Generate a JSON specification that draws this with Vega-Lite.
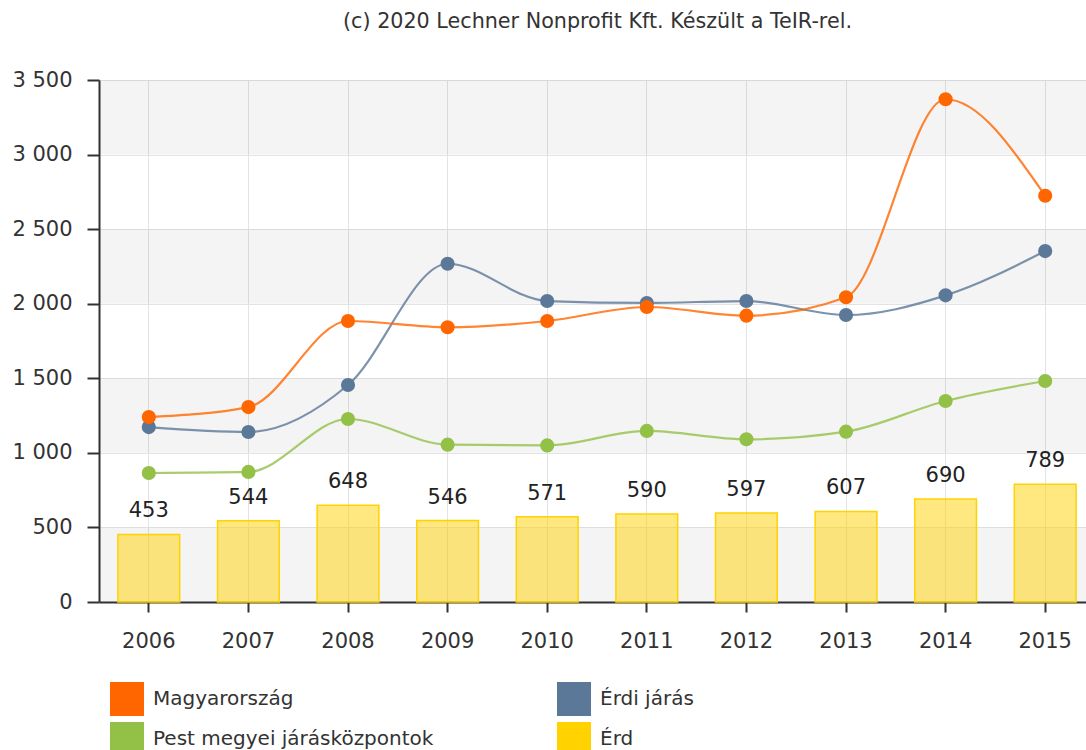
{
  "$schema": "https://vega.github.io/schema/vega-lite/v6.json",
  "width": 987,
  "height": 522,
  "autosize": "none",
  "padding": {"left": 99, "top": 80, "right": 0, "bottom": 148},
  "background": "white",
  "title": {
    "text": "(c) 2020 Lechner Nonprofit Kft. Készült a TeIR-rel.",
    "fontSize": 20.7,
    "fontWeight": "normal",
    "color": "#333333",
    "font": "DejaVu Sans",
    "offset": 20,
    "baseline": "alphabetic",
    "dx": 5
  },
  "config": {"view": {"stroke": null}, "font": "DejaVu Sans"},
  "datasets": {
    "bands": [
      {"lo": 0, "hi": 500},
      {"lo": 1000, "hi": 1500},
      {"lo": 2000, "hi": 2500},
      {"lo": 3000, "hi": 3500}
    ],
    "erd": [
      {"year": "2006", "value": 453},
      {"year": "2007", "value": 544},
      {"year": "2008", "value": 648},
      {"year": "2009", "value": 546},
      {"year": "2010", "value": 571},
      {"year": "2011", "value": 590},
      {"year": "2012", "value": 597},
      {"year": "2013", "value": 607},
      {"year": "2014", "value": 690},
      {"year": "2015", "value": 789}
    ],
    "series": [
      {"series": "Pest megyei járásközpontok", "year": "2006", "value": 865},
      {"series": "Pest megyei járásközpontok", "year": "2007", "value": 872},
      {"series": "Pest megyei járásközpontok", "year": "2008", "value": 1227},
      {"series": "Pest megyei járásközpontok", "year": "2009", "value": 1055},
      {"series": "Pest megyei járásközpontok", "year": "2010", "value": 1050},
      {"series": "Pest megyei járásközpontok", "year": "2011", "value": 1147},
      {"series": "Pest megyei járásközpontok", "year": "2012", "value": 1091},
      {"series": "Pest megyei járásközpontok", "year": "2013", "value": 1142},
      {"series": "Pest megyei járásközpontok", "year": "2014", "value": 1348},
      {"series": "Pest megyei járásközpontok", "year": "2015", "value": 1482},
      {"series": "Érdi járás", "year": "2006", "value": 1173},
      {"series": "Érdi járás", "year": "2007", "value": 1140},
      {"series": "Érdi járás", "year": "2008", "value": 1455},
      {"series": "Érdi járás", "year": "2009", "value": 2268},
      {"series": "Érdi járás", "year": "2010", "value": 2018},
      {"series": "Érdi járás", "year": "2011", "value": 2005},
      {"series": "Érdi járás", "year": "2012", "value": 2018},
      {"series": "Érdi járás", "year": "2013", "value": 1924},
      {"series": "Érdi járás", "year": "2014", "value": 2056},
      {"series": "Érdi járás", "year": "2015", "value": 2353},
      {"series": "Magyarország", "year": "2006", "value": 1240},
      {"series": "Magyarország", "year": "2007", "value": 1307},
      {"series": "Magyarország", "year": "2008", "value": 1884},
      {"series": "Magyarország", "year": "2009", "value": 1842},
      {"series": "Magyarország", "year": "2010", "value": 1884},
      {"series": "Magyarország", "year": "2011", "value": 1978},
      {"series": "Magyarország", "year": "2012", "value": 1920},
      {"series": "Magyarország", "year": "2013", "value": 2043},
      {"series": "Magyarország", "year": "2014", "value": 3371},
      {"series": "Magyarország", "year": "2015", "value": 2724}
    ]
  },
  "layer": [
    {
      "data": {"name": "bands"},
      "mark": {"type": "rect", "color": "#000000", "opacity": 0.045},
      "encoding": {
        "y": {
          "field": "lo",
          "type": "quantitative",
          "scale": {"domain": [0, 3500], "nice": false},
          "axis": {
            "title": null,
            "values": [0, 500, 1000, 1500, 2000, 2500, 3000, 3500],
            "labelExpr": "replace(format(datum.value, ',d'), ',', ' ')",
            "labelFontSize": 21,
            "labelColor": "#333333",
            "labelFont": "DejaVu Sans",
            "labelPadding": 15,
            "tickSize": 12,
            "tickWidth": 2,
            "tickColor": "#333333",
            "domainColor": "#333333",
            "domainWidth": 2,
            "gridColor": "#e3e3e3",
            "gridWidth": 1
          }
        },
        "y2": {"field": "hi"}
      }
    },
    {
      "data": {"name": "erd"},
      "mark": {"type": "bar", "fill": "#FFD200", "fillOpacity": 0.5, "stroke": "#FFD200", "strokeWidth": 1.5},
      "encoding": {
        "x": {
          "field": "year",
          "type": "ordinal",
          "scale": {"range": [0, 996], "paddingInner": 0.38, "paddingOuter": 0.19},
          "axis": {
            "title": null,
            "labelAngle": 0,
            "labelFontSize": 21,
            "labelColor": "#333333",
            "labelFont": "DejaVu Sans",
            "labelPadding": 18,
            "tickSize": 10,
            "tickWidth": 2,
            "tickColor": "#333333",
            "domainColor": "#333333",
            "domainWidth": 2,
            "grid": true,
            "gridColor": "#e3e3e3",
            "gridWidth": 1
          }
        },
        "y": {"field": "value", "type": "quantitative"}
      }
    },
    {
      "data": {"name": "erd"},
      "mark": {"type": "text", "fontSize": 21, "color": "#222222", "baseline": "alphabetic", "dy": -17, "font": "DejaVu Sans"},
      "encoding": {
        "x": {"field": "year", "type": "ordinal"},
        "y": {"field": "value", "type": "quantitative"},
        "text": {"field": "value", "type": "quantitative"}
      }
    },
    {
      "data": {"name": "series"},
      "mark": {"type": "line", "interpolate": "monotone", "strokeWidth": 2.2, "opacity": 0.8},
      "encoding": {
        "x": {"field": "year", "type": "ordinal"},
        "y": {"field": "value", "type": "quantitative"},
        "color": {
          "field": "series",
          "type": "nominal",
          "scale": {
            "domain": ["Magyarország", "Érdi járás", "Pest megyei járásközpontok", "Érd"],
            "range": ["#FF6600", "#5C7899", "#93C047", "#FFD200"]
          },
          "legend": {
            "orient": "none",
            "direction": "horizontal",
            "legendX": 11,
            "legendY": 602,
            "columns": 2,
            "title": null,
            "symbolType": "square",
            "symbolSize": 1156,
            "symbolStrokeWidth": 0,
            "symbolOpacity": 1,
            "labelFontSize": 20,
            "labelColor": "#333333",
            "labelFont": "DejaVu Sans",
            "labelOffset": 9,
            "labelLimit": 400,
            "rowPadding": 6,
            "columnPadding": 123,
            "padding": 0,
            "encode": {
              "symbols": {
                "update": {
                  "fill": {"scale": "color", "field": "value"},
                  "fillOpacity": {"value": 1},
                  "opacity": {"value": 1},
                  "strokeWidth": {"value": 0}
                }
              }
            }
          }
        }
      }
    },
    {
      "data": {"name": "series"},
      "mark": {"type": "point", "filled": true, "size": 200, "opacity": 1},
      "encoding": {
        "x": {"field": "year", "type": "ordinal"},
        "y": {"field": "value", "type": "quantitative"},
        "color": {"field": "series", "type": "nominal"}
      }
    }
  ]
}
